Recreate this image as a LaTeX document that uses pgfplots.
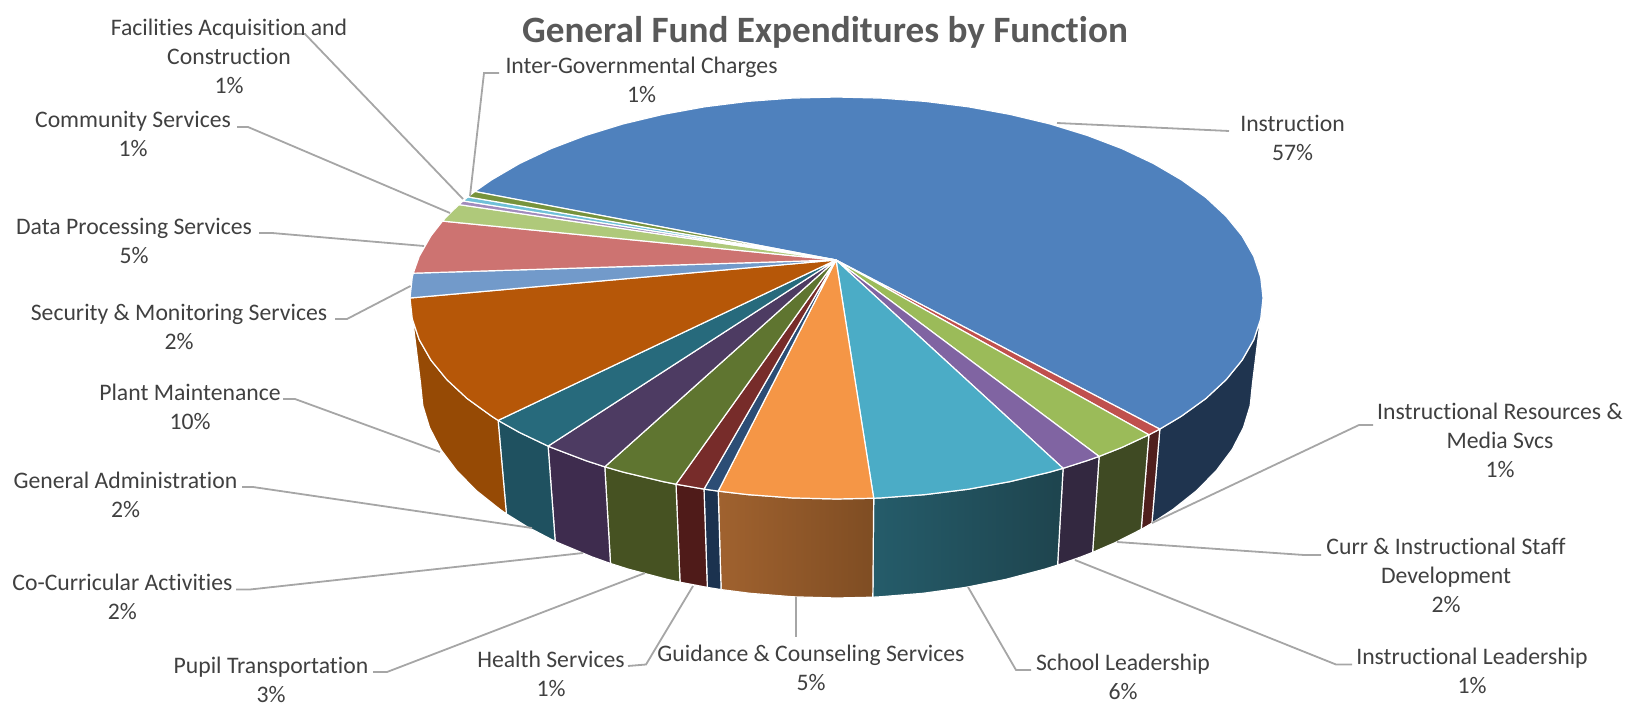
\documentclass[border=0pt]{standalone}
\usepackage{pgfplots}
\pgfplotsset{compat=1.18}
\usepackage{fontspec}
\setmainfont[Ligatures=NoCommon]{Carlito}
\definecolor{lead}{HTML}{A6A6A6}
\definecolor{txt}{HTML}{404040}
\definecolor{ttl}{HTML}{595959}
\tikzset{
  pie/.style={draw=white, line width=0.6pt, line join=round},
  lbl/.style={font=\fontsize{11.85}{14.5}\selectfont, text=txt, align=center, inner sep=0pt},
  ldr/.style={draw=lead, line width=0.9pt},
}
\begin{document}
\begin{tikzpicture}
\begin{axis}[
  scale only axis, width=816.5pt, height=353pt,
  xmin=0, xmax=1633, ymin=0, ymax=706, y dir=reverse,
  axis lines=none, clip=false, no markers,
]
% keeps the page as large as the whole frame
\addplot[draw=none] coordinates {(0,0)(1633,706)};
% sides
\addplot[pie, fill={rgb,255:red,31;green,52;blue,79}] coordinates {(1263,298)(1260.7,319)(1253.7,339.8)(1242.1,360.1)(1226.1,379.7)(1205.9,398.5)(1181.5,416.1)(1159.8,429.1)(1151.9,523.2)(1173,509.4)(1196.8,490.5)(1216.5,470.4)(1232.2,449.4)(1243.4,427.7)(1250.2,405.5)(1252.5,383)} --cycle;
\addplot[pie, fill={rgb,255:red,79;green,31;blue,29}] coordinates {(1159.8,429.1)(1148.9,434.8)(1141.2,529.4)(1151.9,523.2)} --cycle;
\addplot[pie, fill={rgb,255:red,63;green,74;blue,35}] coordinates {(1148.9,434.8)(1121.9,447.4)(1099.1,456.4)(1092.6,552.4)(1114.8,542.8)(1141.2,529.4)} --cycle;
\addplot[pie, fill={rgb,255:red,51;green,40;blue,64}] coordinates {(1099.1,456.4)(1087.2,460.6)(1063.1,468.3)(1057.6,565.1)(1081,556.9)(1092.6,552.4)} --cycle;
\addplot[pie, left color={rgb,255:red,37;green,92;blue,106}, right color={rgb,255:red,30;green,68;blue,78}] coordinates {(1063.1,468.3)(1049.8,472.1)(1010,481.6)(968.3,489.2)(925.2,494.6)(881.1,497.9)(873.7,498.2)(872.8,597.2)(880,596.8)(923,593.3)(965,587.5)(1005.7,579.4)(1044.5,569.2)(1057.6,565.1)} --cycle;
\addplot[pie, left color={rgb,255:red,160;green,98;blue,47}, right color={rgb,255:red,127;green,77;blue,35}] coordinates {(873.7,498.2)(836.5,499)(791.9,497.9)(747.8,494.6)(718.2,491.1)(721.1,589.6)(750,593.3)(793,596.8)(836.5,598)(872.8,597.2)} --cycle;
\addplot[pie, fill={rgb,255:red,27;green,50;blue,79}] coordinates {(718.2,491.1)(704,489.1)(707.3,587.4)(721.1,589.6)} --cycle;
\addplot[pie, fill={rgb,255:red,79;green,27;blue,25}] coordinates {(704,489.1)(676,484.2)(680,582.2)(707.3,587.4)} --cycle;
\addplot[pie, fill={rgb,255:red,70;green,82;blue,34}] coordinates {(676,484.2)(663,481.6)(623.2,472.1)(604.8,466.8)(610.5,563.5)(628.5,569.2)(667.3,579.4)(680,582.2)} --cycle;
\addplot[pie, fill={rgb,255:red,62;green,44;blue,78}] coordinates {(604.8,466.8)(585.8,460.6)(551.1,447.4)(548.1,446.1)(555.2,541.4)(558.2,542.8)(592,556.9)(610.5,563.5)} --cycle;
\addplot[pie, fill={rgb,255:red,31;green,81;blue,96}] coordinates {(548.1,446.1)(519.6,432.5)(498.1,420.4)(506.4,513.9)(527.4,526.9)(555.2,541.4)} --cycle;
\addplot[pie, fill={rgb,255:red,150;green,74;blue,5}] coordinates {(498.1,420.4)(491.5,416.1)(467.1,398.5)(446.9,379.7)(430.9,360.1)(419.3,339.8)(412.3,319)(410,298)(420.5,383)(422.8,405.5)(429.6,427.7)(440.8,449.4)(456.5,470.4)(476.2,490.5)(500,509.4)(506.4,513.9)} --cycle;
% tops
\addplot[pie, fill={rgb,255:red,79;green,129;blue,189}] coordinates {(836,260)(474.8,191.5)(491.5,179.9)(519.6,163.5)(551.1,148.6)(585.8,135.4)(623.2,123.9)(663,114.4)(704.7,106.8)(747.8,101.4)(791.9,98.1)(836.5,97)(881.1,98.1)(925.2,101.4)(968.3,106.8)(1010,114.4)(1049.8,123.9)(1087.2,135.4)(1121.9,148.6)(1153.4,163.5)(1181.5,179.9)(1205.9,197.5)(1226.1,216.3)(1242.1,235.9)(1253.7,256.2)(1260.7,277)(1263,298)(1260.7,319)(1253.7,339.8)(1242.1,360.1)(1226.1,379.7)(1205.9,398.5)(1181.5,416.1)(1159.8,429.1)} --cycle;
\addplot[pie, fill={rgb,255:red,192;green,80;blue,77}] coordinates {(836,260)(1159.8,429.1)(1148.9,434.8)} --cycle;
\addplot[pie, fill={rgb,255:red,155;green,187;blue,89}] coordinates {(836,260)(1148.9,434.8)(1121.9,447.4)(1099.1,456.4)} --cycle;
\addplot[pie, fill={rgb,255:red,128;green,100;blue,162}] coordinates {(836,260)(1099.1,456.4)(1087.2,460.6)(1063.1,468.3)} --cycle;
\addplot[pie, fill={rgb,255:red,75;green,172;blue,198}] coordinates {(836,260)(1063.1,468.3)(1049.8,472.1)(1010,481.6)(968.3,489.2)(925.2,494.6)(881.1,497.9)(873.7,498.2)} --cycle;
\addplot[pie, fill={rgb,255:red,245;green,150;blue,70}] coordinates {(836,260)(873.7,498.2)(836.5,499)(791.9,497.9)(747.8,494.6)(718.2,491.1)} --cycle;
\addplot[pie, fill={rgb,255:red,44;green,77;blue,117}] coordinates {(836,260)(718.2,491.1)(704,489.1)} --cycle;
\addplot[pie, fill={rgb,255:red,119;green,44;blue,42}] coordinates {(836,260)(704,489.1)(676,484.2)} --cycle;
\addplot[pie, fill={rgb,255:red,95;green,117;blue,48}] coordinates {(836,260)(676,484.2)(663,481.6)(623.2,472.1)(604.8,466.8)} --cycle;
\addplot[pie, fill={rgb,255:red,77;green,59;blue,98}] coordinates {(836,260)(604.8,466.8)(585.8,460.6)(551.1,447.4)(548.1,446.1)} --cycle;
\addplot[pie, fill={rgb,255:red,39;green,106;blue,124}] coordinates {(836,260)(548.1,446.1)(519.6,432.5)(498.1,420.4)} --cycle;
\addplot[pie, fill={rgb,255:red,182;green,87;blue,8}] coordinates {(836,260)(498.1,420.4)(491.5,416.1)(467.1,398.5)(446.9,379.7)(430.9,360.1)(419.3,339.8)(412.3,319)(410,298)} --cycle;
\addplot[pie, fill={rgb,255:red,114;green,154;blue,202}] coordinates {(836,260)(410,298)(412.3,277)(413.3,273.2)} --cycle;
\addplot[pie, fill={rgb,255:red,205;green,115;blue,113}] coordinates {(836,260)(413.3,273.2)(419.3,256.2)(430.9,235.9)(442.5,221.1)} --cycle;
\addplot[pie, fill={rgb,255:red,175;green,201;blue,122}] coordinates {(836,260)(442.5,221.1)(446.9,216.3)(458.9,204.6)} --cycle;
\addplot[pie, fill={rgb,255:red,161;green,139;blue,188}] coordinates {(836,260)(458.9,204.6)(463.1,200.9)} --cycle;
\addplot[pie, fill={rgb,255:red,111;green,192;blue,216}] coordinates {(836,260)(463.1,200.9)(467.9,196.9)} --cycle;
\addplot[pie, fill={rgb,255:red,119;green,147;blue,60}] coordinates {(836,260)(467.9,196.9)(474.8,191.5)} --cycle;
% leader lines
\addplot[ldr] coordinates {(1057,123)(1229,131)};
\addplot[ldr] coordinates {(470,196)(484,73)(499,73)};
\addplot[ldr] coordinates {(463,199)(305,34)(293,34)};
\addplot[ldr] coordinates {(450,213)(248,127)(237,127)};
\addplot[ldr] coordinates {(424,246)(272,233)(259,233)};
\addplot[ldr] coordinates {(410.5,286)(347,319)(335,319)};
\addplot[ldr] coordinates {(440,452)(295,399)(283,399)};
\addplot[ldr] coordinates {(532,528)(253,487)(242,487)};
\addplot[ldr] coordinates {(583,553)(250,589.5)(236,589.5)};
\addplot[ldr] coordinates {(645,573)(387,672)(373,672)};
\addplot[ldr] coordinates {(693,586)(646,664.5)(628,666)};
\addplot[ldr] coordinates {(796,597)(796,637)};
\addplot[ldr] coordinates {(968,587)(1016,670)(1031,670)};
\addplot[ldr] coordinates {(1075,560)(1336,664.5)(1352,664.5)};
\addplot[ldr] coordinates {(1117,542)(1304,555)(1321,555)};
\addplot[ldr] coordinates {(1152,523)(1359,425)(1373,425)};
% labels
\node[font=\fontsize{18.6}{22}\selectfont\bfseries, text=ttl, inner sep=0pt] at (axis cs:825,32) {General Fund Expenditures by Function};
\node[lbl] at (axis cs:1292.5,138) {Instruction\\57\%};
\node[lbl] at (axis cs:641.5,80) {Inter-Governmental Charges\\1\%};
\node[lbl] at (axis cs:229,56) {Facilities Acquisition and\\Construction\\1\%};
\node[lbl] at (axis cs:133,133.5) {Community Services\\1\%};
\node[lbl] at (axis cs:134,240.5) {Data Processing Services\\5\%};
\node[lbl] at (axis cs:179,326.5) {Security \& Monitoring Services\\2\%};
\node[lbl] at (axis cs:190,406.5) {Plant Maintenance\\10\%};
\node[lbl] at (axis cs:125.5,494.5) {General Administration\\2\%};
\node[lbl] at (axis cs:122.4,596.5) {Co-Curricular Activities\\2\%};
\node[lbl] at (axis cs:271,680) {Pupil Transportation\\3\%};
\node[lbl] at (axis cs:551,674) {Health Services\\1\%};
\node[lbl] at (axis cs:811,668) {Guidance \& Counseling Services\\5\%};
\node[lbl] at (axis cs:1123,677) {School Leadership\\6\%};
\node[lbl] at (axis cs:1472,671) {Instructional Leadership\\1\%};
\node[lbl] at (axis cs:1446,575.5) {Curr \& Instructional Staff\\Development\\2\%};
\node[lbl] at (axis cs:1500,440.5) {Instructional Resources \&\\Media Svcs\\1\%};
\end{axis}
\end{tikzpicture}
\end{document}
